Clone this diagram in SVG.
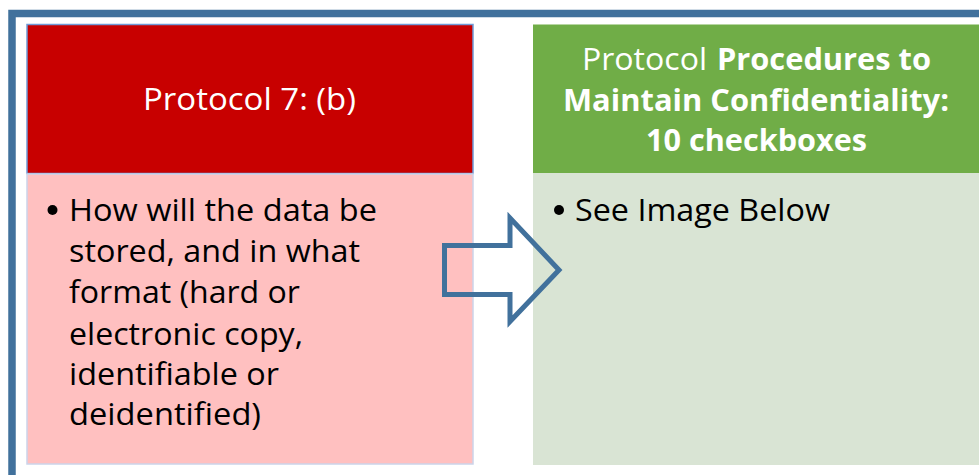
<svg xmlns="http://www.w3.org/2000/svg" width="979" height="475" viewBox="0 0 979 475">
<style>
.t{font-family:"Open Sans","Liberation Sans",sans-serif;font-size:31px;}
.w{fill:#ffffff;}
.k{fill:#000000;}
.b{font-weight:bold;}
</style>
<rect x="0" y="0" width="979" height="475" fill="#ffffff"/>
<rect id="frame" x="12" y="13.5" width="1000" height="500" fill="none" stroke="#41719C" stroke-width="7.5"/>
<g id="node-left-header">
<rect x="27" y="24.5" width="446" height="149" fill="#C80000" stroke="#6F9BD8" stroke-width="1.5"/>
<text class="t w" x="143" y="110" textLength="213" lengthAdjust="spacingAndGlyphs">Protocol 7: (b)</text>
</g>
<g id="node-left-body">
<rect x="27" y="174" width="446" height="290" fill="#FFC0C0" stroke="#CCD4EA" stroke-width="1.5"/>
<circle cx="52.5" cy="210" r="5" fill="#000"/>
<text class="t k" x="69" y="221" textLength="308" lengthAdjust="spacingAndGlyphs">How will the data be</text>
<text class="t k" x="69" y="262" textLength="291" lengthAdjust="spacingAndGlyphs">stored, and in what</text>
<text class="t k" x="69" y="303" textLength="231" lengthAdjust="spacingAndGlyphs">format (hard or</text>
<text class="t k" x="69" y="345" textLength="234" lengthAdjust="spacingAndGlyphs">electronic copy,</text>
<text class="t k" x="69" y="385" textLength="210" lengthAdjust="spacingAndGlyphs">identifiable or</text>
<text class="t k" x="69" y="425" textLength="192" lengthAdjust="spacingAndGlyphs">deidentified)</text>
</g>
<g id="node-right-header">
<rect x="533" y="24.5" width="460" height="148.5" fill="#70AD47"/>
<text class="t w" x="582" y="70" textLength="125" lengthAdjust="spacingAndGlyphs">Protocol</text>
<text class="t w b" x="717" y="70" textLength="214" lengthAdjust="spacingAndGlyphs">Procedures to</text>
<text class="t w b" x="563" y="110.5" textLength="386" lengthAdjust="spacingAndGlyphs">Maintain Confidentiality:</text>
<text class="t w b" x="646" y="151" textLength="221" lengthAdjust="spacingAndGlyphs">10 checkboxes</text>
</g>
<g id="node-right-body">
<rect x="533" y="173" width="460" height="292" fill="#D9E4D4"/>
<circle cx="559" cy="210" r="5" fill="#000"/>
<text class="t k" x="575" y="221" textLength="255" lengthAdjust="spacingAndGlyphs">See Image Below</text>
</g>
<g id="connectors">
<polygon points="444.5,245.5 510,245.5 510,218 559,270 510,321.5 510,294.5 444.5,294.5" fill="none" stroke="#41719C" stroke-width="5" stroke-linejoin="miter"/>
</g>
</svg>
